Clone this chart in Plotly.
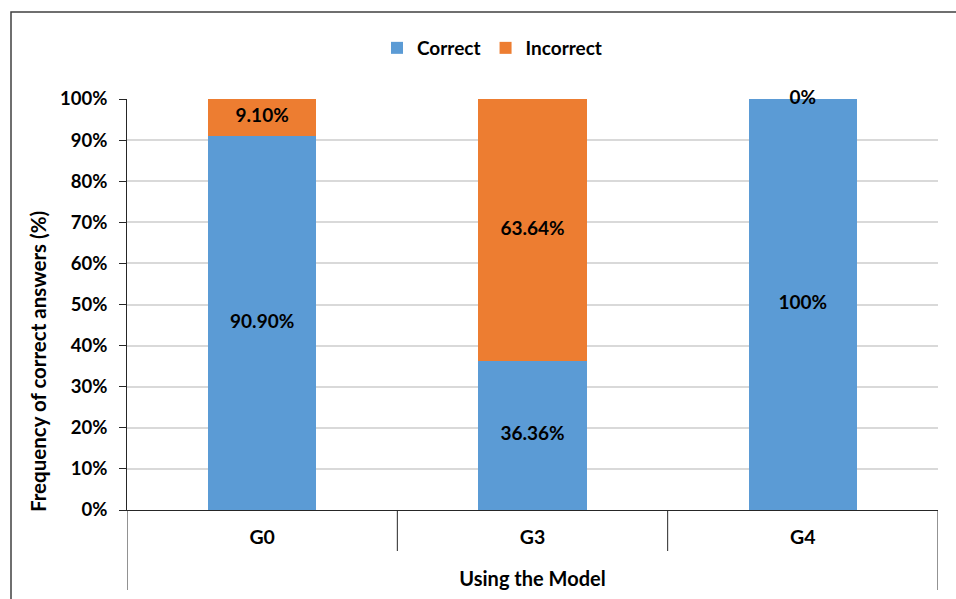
import plotly.graph_objects as go

categories = ["G0", "G3", "G4"]
correct = [90.90, 36.36, 100.0]
incorrect = [9.10, 63.64, 0.0]
correct_labels = ["90.90%", "36.36%", "100%"]
incorrect_labels = ["9.10%", "63.64%", "0%"]
y_ticks = list(range(0, 101, 10))
y_tick_labels = [f"{v}%" for v in y_ticks]

BLUE = "#5B9BD5"
ORANGE = "#ED7D31"
FONT = "Lato"

FIG_W, FIG_H = 956, 599
L, R, T, B = 127, 18, 99, 89
W = FIG_W - L - R
H = FIG_H - T - B

fig = go.Figure()
fig.add_bar(x=categories, y=correct, name="Correct", marker_color=BLUE,
            marker_line_width=0, width=0.4)
fig.add_bar(x=categories, y=incorrect, name="Incorrect", marker_color=ORANGE,
            marker_line_width=0, width=0.4)

lab_font = dict(family=FONT, size=19, color="black", weight="bold")
fig.add_scatter(x=categories, y=[c / 2 for c in correct], text=correct_labels,
                mode="text", showlegend=False, hoverinfo="skip", cliponaxis=False,
                textfont=lab_font)
fig.add_scatter(x=categories, y=[c + i / 2 for c, i in zip(correct, incorrect)],
                text=incorrect_labels, mode="text", showlegend=False, hoverinfo="skip",
                cliponaxis=False, textfont=lab_font)

shapes = []
for xv, depth in [(-0.5, 80), (0.5, 41), (1.5, 41), (2.5, 80)]:
    shapes.append(dict(type="line", xref="x", yref="paper", x0=xv, x1=xv,
                       y0=0, y1=-depth / H, line=dict(color="#262626", width=1)))
shapes.append(dict(type="rect", xref="paper", yref="paper",
                   x0=-(127 - 11) / W, x1=1.2, y0=-0.5, y1=1 + (99 - 12) / H,
                   line=dict(color="#404040", width=1.5), fillcolor="rgba(0,0,0,0)"))

annotations = [dict(text="Frequency of correct answers (%)", textangle=-90,
                    xref="paper", yref="paper", x=(38 - L) / W, y=(510 - 362) / H,
                    xanchor="center", yanchor="middle", showarrow=False,
                    font=dict(family=FONT, size=20.5, color="black", weight="bold"))]

fig.update_layout(
    width=FIG_W, height=FIG_H,
    barmode="stack",
    paper_bgcolor="white", plot_bgcolor="white",
    margin=dict(l=L, r=R, t=T, b=B),
    font=dict(family=FONT, size=18, color="black"),
    shapes=shapes,
    annotations=annotations,
    legend=dict(orientation="h", traceorder="normal",
                x=(377 - L) / W, xanchor="left",
                y=1 + (99 - 48) / H, yanchor="middle",
                font=dict(family=FONT, size=19, color="black", weight="bold"),
                bgcolor="rgba(0,0,0,0)"),
    xaxis=dict(range=[-0.5, 2.5], showline=True, linecolor="#262626", linewidth=1,
               ticks="", showgrid=False, ticklabelstandoff=10,
               tickfont=dict(family=FONT, size=19.5, color="black", weight="bold"),
               title=dict(text="Using the Model", standoff=24,
                          font=dict(family=FONT, size=20, color="black", weight="bold"))),
    yaxis=dict(range=[0, 100], tickvals=y_ticks, ticktext=y_tick_labels,
               showline=True, linecolor="#262626", linewidth=1,
               ticks="outside", ticklen=7, tickcolor="#262626",
               ticklabelstandoff=8,
               showgrid=True, gridcolor="#D9D9D9", gridwidth=1.5,
               zeroline=False,
               tickfont=dict(family=FONT, size=18.5, color="black", weight="bold")),
)

fig.write_html("out.html", config={"displayModeBar": False},
               post_script="document.body.style.margin='0';")
